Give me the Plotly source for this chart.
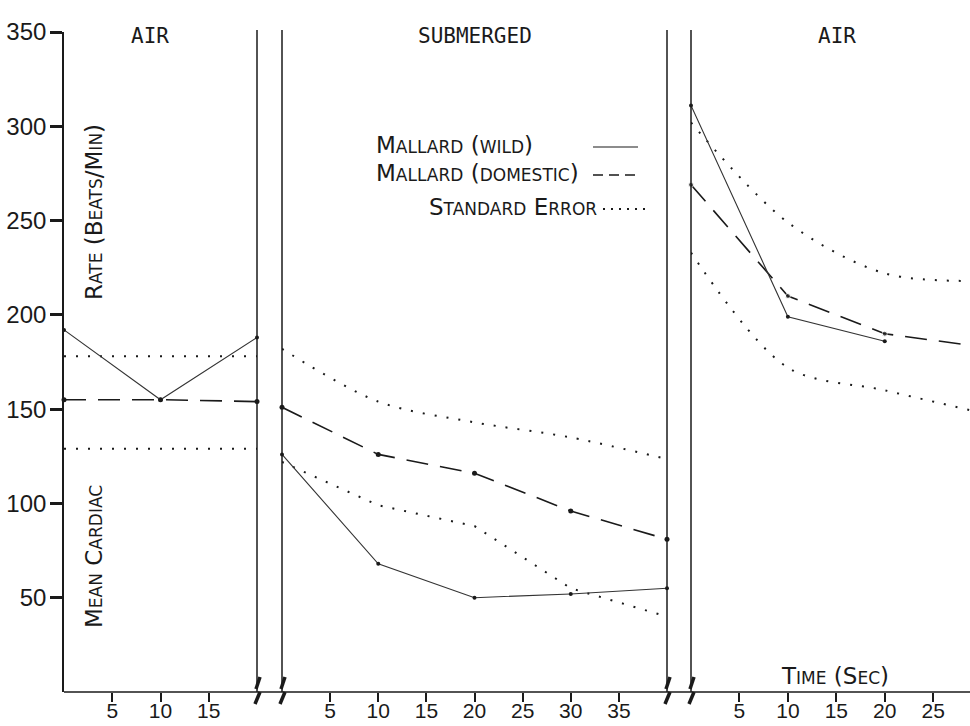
import plotly.graph_objects as go

# ---------------- data ----------------
t_air1 = [0, 10, 20]
wild_air1 = [192, 155, 188]
dom_air1 = [155, 155, 154]
se_hi_air1 = [178, 178, 178]
se_lo_air1 = [129, 129, 129]

t_sub = [0, 10, 20, 30, 40]
wild_sub = [126, 68, 50, 52, 55]
dom_sub = [151, 126, 116, 96, 81]
se_hi_sub = [182, 154, 143, 135, 123.5]
se_lo_sub = [122, 99, 88, 55, 40]

t_air2_wild = [0, 10, 20]
wild_air2 = [311, 199, 186]
t_air2 = [0, 10, 20, 30]
dom_air2 = [269, 210, 190, 183]
se_hi_air2 = [302, 249, 222, 218]
se_lo_air2 = [233, 172, 160, 148]

y_ticks = [50, 100, 150, 200, 250, 300, 350]
x1_ticks = [5, 10, 15]
x2_ticks = [5, 10, 15, 20, 25, 30, 35]
x3_ticks = [5, 10, 15, 20, 25]

panel_titles = ["AIR", "SUBMERGED", "AIR"]

# ---------------- layout geometry (window pixels) ----------------
W, H = 970, 726
ML, MT, MR = 64, 32, 0
MB = H - 692
PW = W - ML - MR
PH = H - MT - MB


def px(xw):
    return (xw - ML) / PW


def py(yw):
    return (H - MB - yw) / PH


dom1 = [0, px(257)]
dom2 = [px(282), px(667)]
dom3 = [px(691), 1.0]

INK = "#1a1a1a"
TICKFONT = dict(family="Liberation Sans, Arial, sans-serif", size=24, color=INK)
XTICKFONT = dict(family="Liberation Sans, Arial, sans-serif", size=21, color=INK)
LBLFONT = "DejaVu Sans, sans-serif"


def sc(text, big, small):
    out = []
    for ch in text:
        if ch.islower():
            out.append(f'<span style="font-size:{small}px">{ch.upper()}</span>')
        else:
            out.append(f'<span style="font-size:{big}px">{ch}</span>')
    return "".join(out)


fig = go.Figure()

DOT = "2px,10px"
DASH = "22px,12px"


def add_panel(xa, t, wild, dom, hi, lo, t_wild=None, dom_sizes=None, hi_shape="linear", lo_shape="linear"):
    tw = t if t_wild is None else t_wild
    fig.add_trace(go.Scatter(x=t, y=hi, xaxis=xa, yaxis="y", mode="lines",
                             line=dict(color=INK, width=2, dash=DOT, shape=hi_shape, smoothing=0.9),
                             showlegend=False, hoverinfo="skip"))
    fig.add_trace(go.Scatter(x=t, y=lo, xaxis=xa, yaxis="y", mode="lines",
                             line=dict(color=INK, width=2, dash=DOT, shape=lo_shape, smoothing=0.9),
                             showlegend=False, hoverinfo="skip"))
    fig.add_trace(go.Scatter(x=t, y=dom, xaxis=xa, yaxis="y", mode="lines+markers",
                             line=dict(color=INK, width=1.6, dash=DASH),
                             marker=dict(color=INK, size=dom_sizes if dom_sizes else 5),
                             cliponaxis=False, showlegend=False))
    fig.add_trace(go.Scatter(x=tw, y=wild, xaxis=xa, yaxis="y", mode="lines+markers",
                             line=dict(color="#333333", width=1.1),
                             marker=dict(color=INK, size=4),
                             cliponaxis=False, showlegend=False))


add_panel("x", t_air1, wild_air1, dom_air1, se_hi_air1, se_lo_air1)
add_panel("x2", t_sub, wild_sub, dom_sub, se_hi_sub, se_lo_sub, hi_shape="spline")
add_panel("x3", t_air2, wild_air2, dom_air2, se_hi_air2, se_lo_air2, t_wild=t_air2_wild,
          dom_sizes=[5, 5, 5, 0], hi_shape="spline", lo_shape="spline")

xcommon = dict(showgrid=False, zeroline=False, showline=False, ticks="outside", ticklen=9,
               tickwidth=2, tickcolor=INK, tickfont=XTICKFONT, anchor="y", fixedrange=True,
               automargin=False, ticklabelstandoff=-9)

fig.update_layout(
    width=W, height=H,
    margin=dict(l=ML, r=MR, t=MT, b=MB, autoexpand=False),
    paper_bgcolor="white", plot_bgcolor="white",
    showlegend=False,
    xaxis=dict(domain=dom1, range=[0, 20], tickvals=x1_ticks, **xcommon),
    xaxis2=dict(domain=dom2, range=[0, 40], tickvals=x2_ticks, **xcommon),
    xaxis3=dict(domain=dom3, range=[0, 28.8], tickvals=x3_ticks, **xcommon),
    yaxis=dict(domain=[0, 1], range=[0, 350], tickvals=y_ticks, showgrid=False, zeroline=False,
               showline=True, linecolor=INK, linewidth=1.6, ticks="outside", ticklen=12,
               tickwidth=2.5, tickcolor=INK, tickfont=TICKFONT, ticklabelstandoff=-1,
               fixedrange=True, automargin=False),
)

shapes = []
# baseline across all panels
shapes.append(dict(type="line", xref="paper", yref="paper", x0=0, x1=1, y0=0, y1=0,
                   line=dict(color=INK, width=1.6)))
# panel boundary lines with break marks
for bx in [257, 282, 667, 691]:
    shapes.append(dict(type="line", xref="paper", yref="paper", x0=px(bx), x1=px(bx),
                       y0=0, y1=py(30), line=dict(color=INK, width=1.5)))
    shapes.append(dict(type="line", xref="paper", yref="paper", x0=px(bx + 3), x1=px(bx - 1),
                       y0=py(677), y1=py(689), line=dict(color=INK, width=3.5)))
    shapes.append(dict(type="line", xref="paper", yref="paper", x0=px(bx + 3), x1=px(bx - 2),
                       y0=py(692), y1=py(704), line=dict(color=INK, width=3.5)))

# legend samples
shapes.append(dict(type="line", xref="paper", yref="paper", x0=px(593), x1=px(638),
                   y0=py(147), y1=py(147), line=dict(color=INK, width=1.2)))
shapes.append(dict(type="line", xref="paper", yref="paper", x0=px(593), x1=px(640),
                   y0=py(175), y1=py(175), line=dict(color=INK, width=1.5, dash="10px,6px")))
shapes.append(dict(type="line", xref="paper", yref="paper", x0=px(603), x1=px(646),
                   y0=py(209), y1=py(209), line=dict(color=INK, width=2, dash="2px,6px")))
fig.update_layout(shapes=shapes)

ann = []
title_font = dict(family="DejaVu Sans Mono, Liberation Mono, monospace", size=21, color=INK)
for txt, cx in zip(panel_titles, [150, 475, 837]):
    ann.append(dict(text=txt, x=px(cx), y=py(36), xref="paper", yref="paper", showarrow=False,
                    xanchor="center", yanchor="middle", font=title_font))

lf = dict(family=LBLFONT, size=17, color=INK)
B, S = 23, 17
ann.append(dict(text=sc("Mallard (wild)", B, S), x=px(374), y=py(145), xref="paper", yref="paper",
                showarrow=False, xanchor="left", yanchor="middle", font=lf))
ann.append(dict(text=sc("Mallard (domestic)", B, S), x=px(374), y=py(173), xref="paper", yref="paper",
                showarrow=False, xanchor="left", yanchor="middle", font=lf))
ann.append(dict(text=sc("Standard Error", B, S), x=px(599), y=py(207), xref="paper", yref="paper",
                showarrow=False, xanchor="right", yanchor="middle", font=lf))
ann.append(dict(text=sc("Time (Sec)", B, S), x=px(835), y=py(676), xref="paper", yref="paper",
                showarrow=False, xanchor="center", yanchor="middle", font=lf))
ann.append(dict(text=sc("Mean Cardiac", B, S), x=px(94), y=py(557), xref="paper", yref="paper",
                showarrow=False, xanchor="center", yanchor="middle", textangle=-90, font=lf))
ann.append(dict(text=sc("Rate (Beats/Min)", B, S), x=px(94), y=py(212), xref="paper", yref="paper",
                showarrow=False, xanchor="center", yanchor="middle", textangle=-90, font=lf))
fig.update_layout(annotations=ann)

# remove the browser's default 8px body margin so the figure fills the window exactly
fig.write_html("out.html", config={"displayModeBar": False},
               post_script="document.body.style.margin='0px';")
